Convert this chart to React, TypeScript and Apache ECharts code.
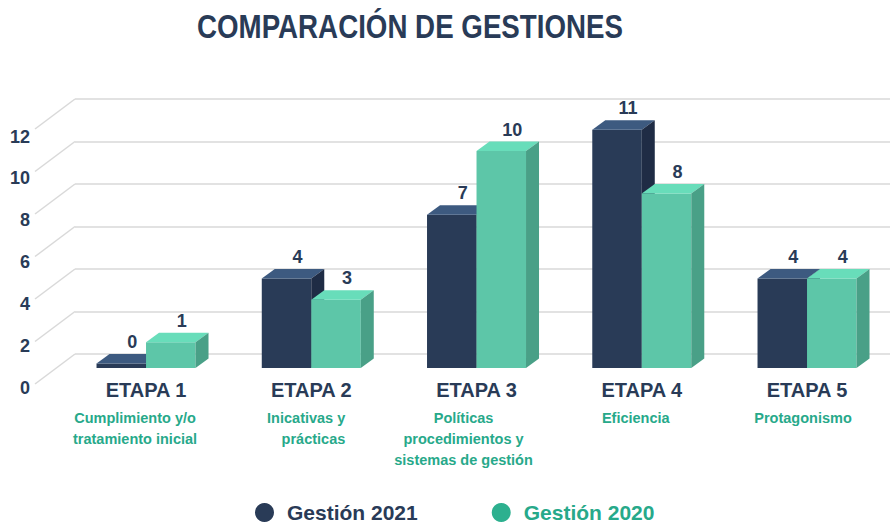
import React, { useEffect, useRef } from 'react';
import * as echarts from 'echarts';

const categories = ['ETAPA 1', 'ETAPA 2', 'ETAPA 3', 'ETAPA 4', 'ETAPA 5'];
const subtitles = [
  ['Cumplimiento y/o', 'tratamiento inicial'],
  ['Inicativas y', 'prácticas'],
  ['Políticas', 'procedimientos y', 'sistemas de gestión'],
  ['Eficiencia'],
  ['Protagonismo'],
];
const chartTitle = 'COMPARACIÓN DE GESTIONES';
const seriesNames = ['Gestión 2021', 'Gestión 2020'];
const gestion2021 = [0, 4, 7, 11, 4];
const gestion2020 = [1, 3, 10, 8, 4];
const yTicks = [0, 2, 4, 6, 8, 10, 12];

// layout (not data)
const subLayout = [
  { align: 'center', dx: -11 },
  { align: 'right', dx: 34 },
  { align: 'center', dx: -13 },
  { align: 'center', dx: -6 },
  { align: 'center', dx: -4 },
];

const NAVY = '#293B57';
const GREEN_TXT = '#27A98A';
const FONT = "'Liberation Sans', Arial, Helvetica, sans-serif";
const DEPTH_X = 13;
const DEPTH_Y = -9.5;
const BAR_W = 49.5;

const darkColors = { front: '#293B57', top: '#3D5A80', side: '#1F2C45' };
const greenColors = { front: '#5DC6A8', top: '#68DDBA', side: '#49A087' };

function makeBarRender(side: number, colors: { front: string; top: string; side: string }) {
  return (params: any, api: any) => {
    const i = api.value(0);
    const v = api.value(1);
    const base = api.coord([i, 0]);
    const topPt = api.coord([i, v]);
    const center = base[0];
    const x0 = side === 0 ? center - BAR_W : center;
    const x1 = x0 + BAR_W;
    const yTop = topPt[1];
    const yBot = base[1] + 4.5;
    return {
      type: 'group',
      children: [
        {
          type: 'rect',
          shape: { x: x0, y: yTop, width: BAR_W, height: yBot - yTop },
          style: { fill: colors.front },
        },
        {
          type: 'polygon',
          shape: {
            points: [
              [x0, yTop],
              [x1, yTop],
              [x1 + DEPTH_X, yTop + DEPTH_Y],
              [x0 + DEPTH_X, yTop + DEPTH_Y],
            ],
          },
          style: { fill: colors.top },
        },
        {
          type: 'polygon',
          shape: {
            points: [
              [x1, yTop],
              [x1 + DEPTH_X, yTop + DEPTH_Y],
              [x1 + DEPTH_X, yBot + DEPTH_Y],
              [x1, yBot],
            ],
          },
          style: { fill: colors.side },
        },
        {
          type: 'text',
          x: x0 + BAR_W / 2 + 11,
          y: yTop - 21.5,
          style: {
            text: String(v),
            fill: NAVY,
            fontSize: 18,
            fontWeight: 'bold',
            fontFamily: FONT,
            align: 'center',
            verticalAlign: 'middle',
          },
        },
      ],
    };
  };
}

export default function App() {
  const ref = useRef<HTMLDivElement>(null);
  useEffect(() => {
    if (!ref.current) return;
    const chart = echarts.init(ref.current, null, { renderer: 'svg' });
    const option: any = {
      animation: false,
      backgroundColor: '#ffffff',
      graphic: [
        {
          type: 'text',
          x: 197,
          y: 26,
          scaleX: 0.84,
          style: {
            text: chartTitle,
            fill: NAVY,
            fontSize: 33,
            fontWeight: 'bold',
            fontFamily: FONT,
            align: 'left',
            verticalAlign: 'middle',
          },
        },
      ],
      legend: {
        left: 250,
        top: 497,
        icon: 'circle',
        itemWidth: 19,
        itemHeight: 19,
        itemGap: 74,
        selectedMode: false,
        data: [
          { name: seriesNames[0], textStyle: { color: NAVY } },
          { name: seriesNames[1], textStyle: { color: GREEN_TXT } },
        ],
        textStyle: { fontSize: 21, fontWeight: 'bold', fontFamily: FONT, padding: [0, 0, 0, 8] },
      },
      grid: [
        // back wall
        { left: 75, right: 0, top: 99, bottom: 529 - 354 },
        // front tick labels
        { left: 33, right: 0, top: 136.5, bottom: 529 - 387.5 },
        // bar front plane
        { left: 63.4, right: 0.35, top: 108.5, bottom: 529 - 363.5 },
      ],
      xAxis: [
        { gridIndex: 0, type: 'category', data: categories, show: false },
        { gridIndex: 1, type: 'category', data: categories, show: false },
        {
          gridIndex: 2,
          type: 'category',
          data: categories,
          axisLine: { show: false },
          axisTick: { show: false },
          splitLine: { show: false },
          axisLabel: {
            margin: 16.5,
            fontSize: 20,
            fontWeight: 'bold',
            color: NAVY,
            fontFamily: FONT,
          },
        },
      ],
      yAxis: [
        {
          gridIndex: 0,
          type: 'value',
          min: 0,
          max: 12,
          interval: 2,
          axisLine: { show: false },
          axisTick: { show: false },
          axisLabel: { show: false },
          splitLine: { show: true, lineStyle: { color: '#D9D9D9', width: 1.5 } },
        },
        {
          gridIndex: 1,
          type: 'value',
          min: 0,
          max: 12,
          interval: 2,
          axisLine: { show: false },
          axisTick: { show: false },
          splitLine: { show: false },
          axisLabel: {
            margin: 3,
            fontSize: 18,
            fontWeight: 'bold',
            color: NAVY,
            fontFamily: FONT,
          },
        },
        {
          gridIndex: 2,
          type: 'value',
          min: 0,
          max: 12,
          interval: 2,
          show: false,
        },
      ],
      series: [
        {
          type: 'custom',
          name: 'diagonals',
          xAxisIndex: 0,
          yAxisIndex: 0,
          silent: true,
          clip: false,
          data: yTicks.map((v) => [0, v]),
          renderItem: (params: any, api: any) => {
            const y = api.coord([0, api.value(1)])[1];
            const x = params.coordSys.x;
            return {
              type: 'line',
              shape: { x1: x, y1: y, x2: x - 40, y2: y + 30 },
              style: { stroke: '#D9D9D9', lineWidth: 1.5 },
            };
          },
        },
        {
          type: 'custom',
          name: seriesNames[0],
          xAxisIndex: 2,
          yAxisIndex: 2,
          silent: true,
          clip: false,
          itemStyle: { color: NAVY },
          data: gestion2021.map((v, i) => [i, v]),
          renderItem: makeBarRender(0, darkColors),
        },
        {
          type: 'custom',
          name: seriesNames[1],
          xAxisIndex: 2,
          yAxisIndex: 2,
          silent: true,
          clip: false,
          itemStyle: { color: '#2DB08F' },
          data: gestion2020.map((v, i) => [i, v]),
          renderItem: makeBarRender(1, greenColors),
        },
        {
          type: 'custom',
          name: 'subtitles',
          xAxisIndex: 2,
          yAxisIndex: 2,
          silent: true,
          clip: false,
          data: categories.map((_, i) => [i, 0]),
          renderItem: (params: any, api: any) => {
            const i = api.value(0);
            const p = api.coord([i, 0]);
            const lay = subLayout[i];
            return {
              type: 'text',
              x: p[0] + lay.dx,
              y: p[1] + 44,
              style: {
                text: subtitles[i].join('\n'),
                fill: GREEN_TXT,
                fontSize: 14.5,
                fontWeight: 'bold',
                fontFamily: FONT,
                align: lay.align,
                verticalAlign: 'top',
                lineHeight: 21,
              },
            };
          },
        },
      ],
    };
    chart.setOption(option);
    return () => chart.dispose();
  }, []);
  return (
    <div
      ref={ref}
      style={{ position: 'fixed', left: 0, top: 0, width: 890, height: 529, background: '#fff' }}
    />
  );
}
